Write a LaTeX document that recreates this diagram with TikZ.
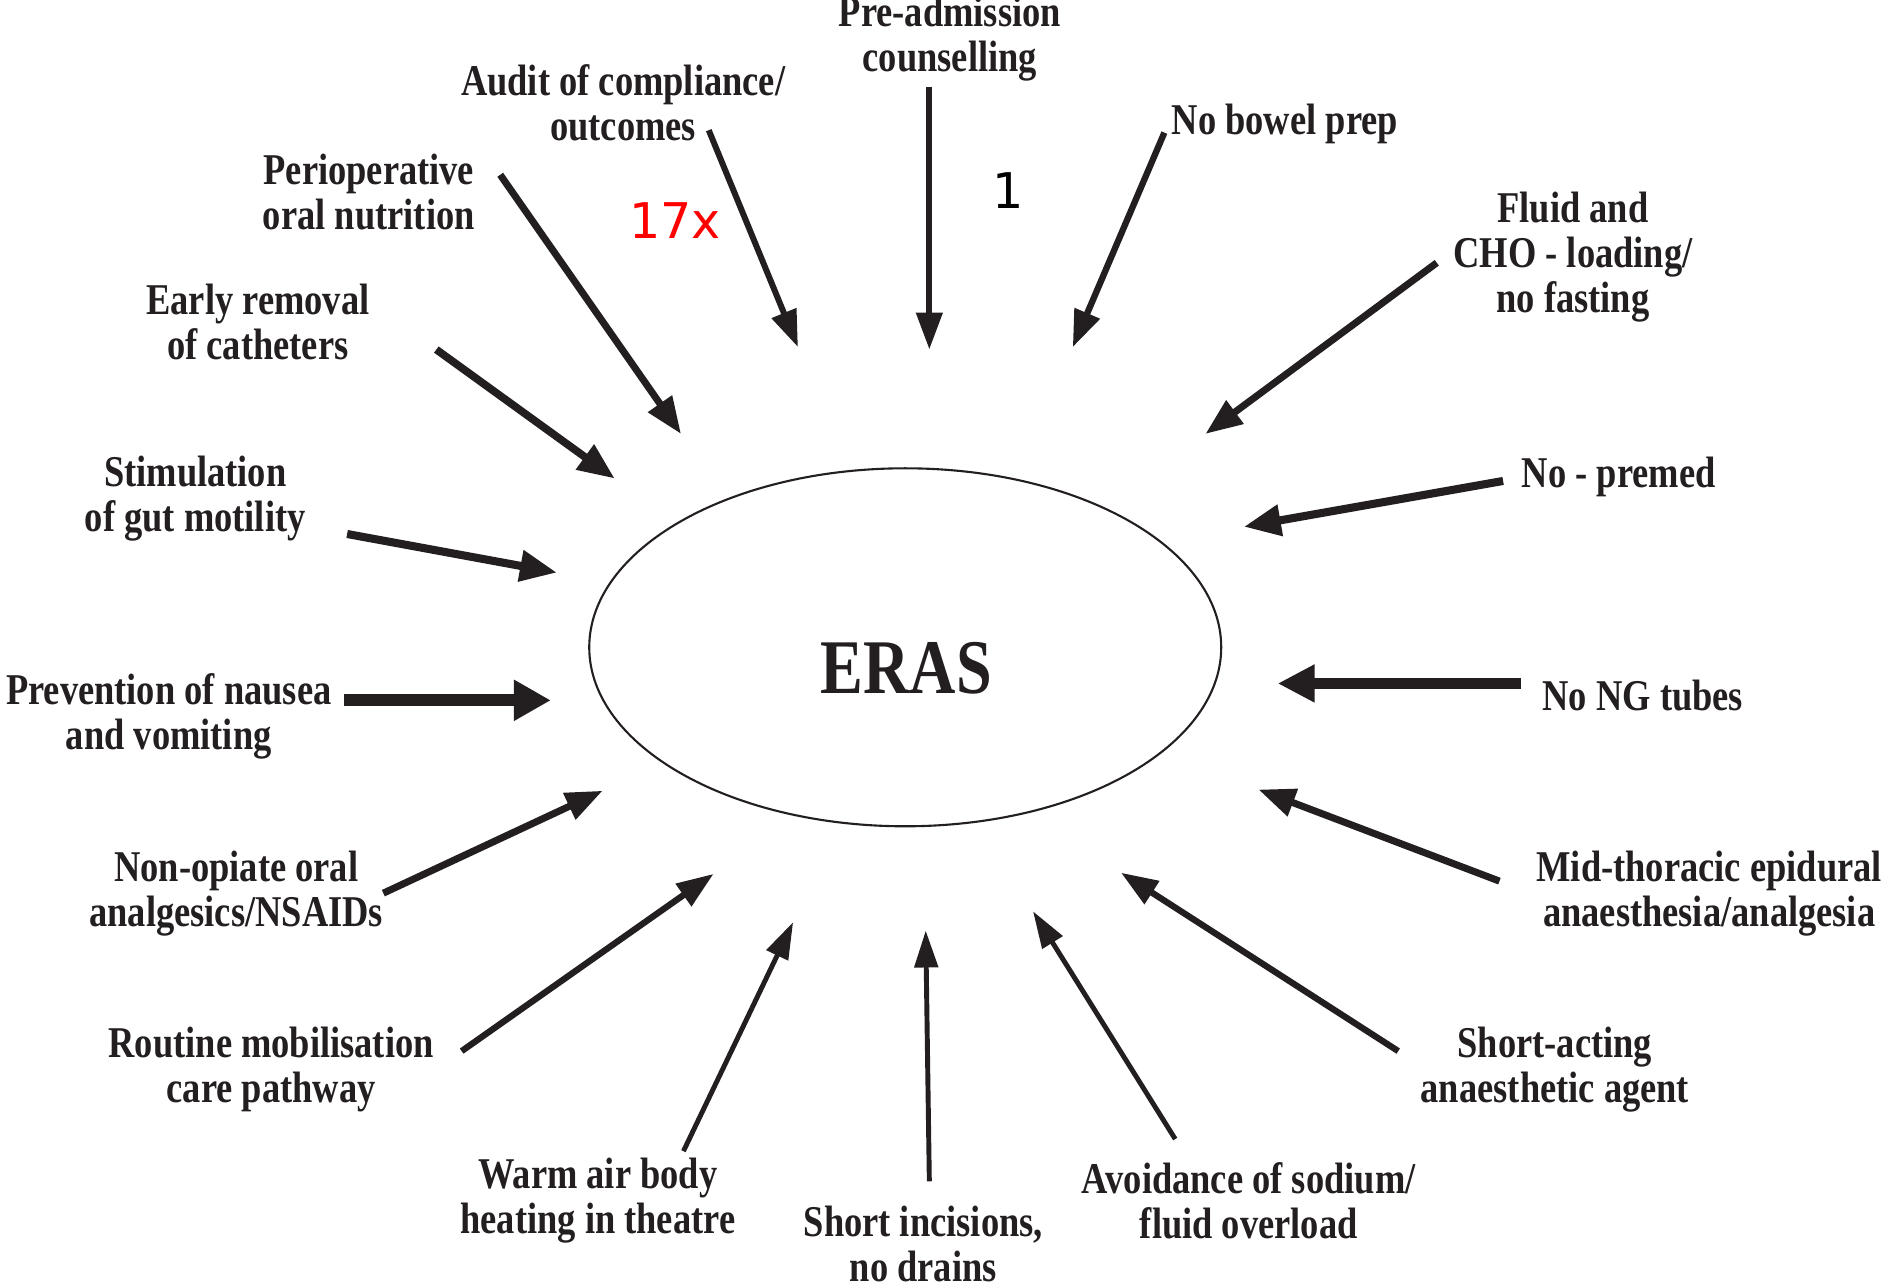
\documentclass[tikz,border=0pt]{standalone}
\usepackage{fontspec}
\setmainfont{Liberation Serif}[FakeStretch=0.83]
\newfontfamily\annofont{DejaVu Sans}
\usetikzlibrary{arrows.meta, shapes.geometric}
\definecolor{ink}{RGB}{35,31,32}
\tikzset{
  lbl/.style={align=center, inner sep=0pt, text=ink,
    font=\fontsize{12.5}{12.8}\selectfont\bfseries},
  spoke/.style={draw=ink, line width=#1,
    -{Triangle[length=10.5pt, width=3.5pt 2.2, fill=ink]}},
}

\begin{document}
\begin{tikzpicture}[x=0.12054mm, y=-0.12054mm]
        \useasboundingbox (0,0) rectangle (1568,1063);

        % Centre
        \node[draw=ink, ellipse, line width=0.6pt, minimum width=63.2mm, minimum height=35.8mm, inner sep=0pt] (ring) at (751,537) {};
        \node[text=ink, font=\fontsize{22}{24}\selectfont\bfseries, inner sep=0pt] (eras) at (752,554) {ERAS};

        % Labels
        \node[lbl] (pread) at (788,32) {Pre-admission\\counselling};
        \node[lbl] (audit) at (517,85) {Audit of compliance/\\outcomes};
        \node[lbl] (periop) at (306,159) {Perioperative\\oral nutrition};
        \node[lbl] (early) at (214,267) {Early removal\\of catheters};
        \node[lbl] (stim) at (162,414) {Stimulation\\of gut motility};
        \node[lbl] (prev) at (140,594) {Prevention of nausea\\and vomiting};
        \node[lbl] (nonop) at (196,741) {Non-opiate oral\\analgesics/NSAIDs};
        \node[lbl] (routine) at (225,887) {Routine mobilisation\\care pathway};
        \node[lbl] (warm) at (496,996) {Warm air body\\heating in theatre};
        \node[lbl] (incis) at (766,1032) {Short incisions,\\no drains};
        \node[lbl] (avoid) at (1036,996) {Avoidance of sodium/\\fluid overload};
        \node[lbl] (shortact) at (1290,887) {Short-acting\\anaesthetic agent};
        \node[lbl] (midtho) at (1418,741) {Mid-thoracic epidural\\anaesthesia/analgesia};
        \node[lbl] (nong) at (1363,577) {No NG tubes};
        \node[lbl] (premed) at (1343,396) {No - premed};
        \node[lbl] (fluid) at (1305,213) {Fluid and\\CHO - loading/\\no fasting};
        \node[lbl] (bowel) at (1066,103) {No bowel prep};

        % Marks
        \node[text=red, font=\annofont\fontsize{14}{16}\selectfont, inner sep=0pt] (count) at (560,183) {17x};
        \node[text=black, font=\annofont\fontsize{14}{16}\selectfont, inner sep=0pt] (one) at (836,158) {1};

        % Arrows into the centre
        \foreach \i/\sx/\sy/\ex/\ey/\w in {
            1/771/72/771/290/1.7pt, 2/588/108/662/288/1.7pt,
            3/415/145/565/360/2pt, 4/362/290/510/397/2.2pt,
            5/288/443/462/475/2.3pt, 6/285/581/457/581/3.4pt,
            7/318/741/500/656/2pt, 8/383/872/592/725/1.8pt,
            9/567/955/658/765/1.4pt, 10/771/980/768/772/1.4pt,
            11/975/945/857/756/1.4pt, 12/1160/872/930/724/1.8pt,
            13/1244/731/1044/655/2pt, 14/1262/567/1060/567/3pt,
            15/1247/399/1032/437/2.3pt, 16/1192/218/1000/360/2pt,
            17/966/110/890/288/1.8pt} {
            \coordinate (s\i) at (\sx,\sy);
            \coordinate (e\i) at (\ex,\ey);
            \draw[spoke=\w] (s\i) -- (e\i);
        }
\end{tikzpicture}
\end{document}
